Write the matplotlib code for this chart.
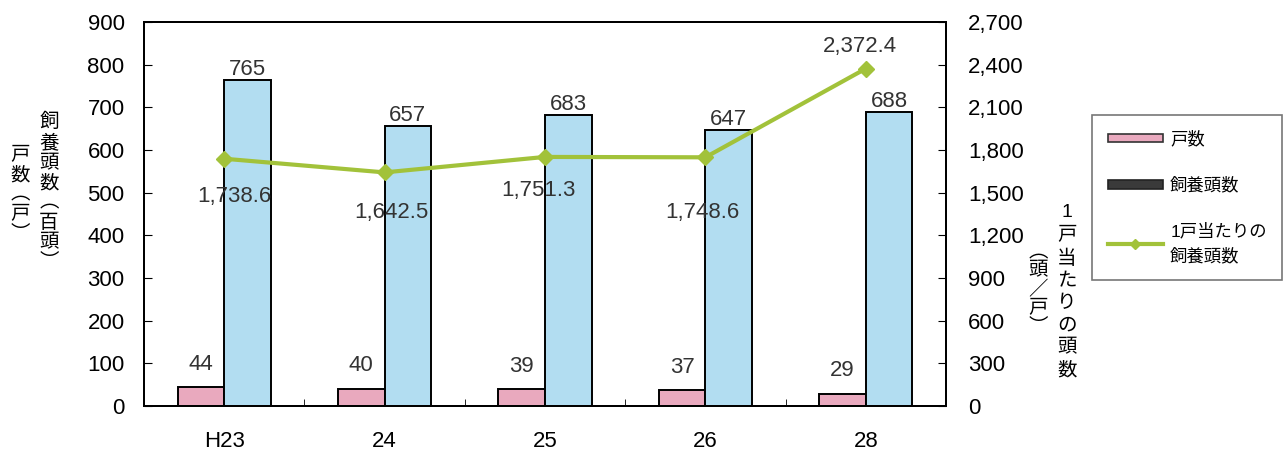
import matplotlib
matplotlib.use('Agg')
import matplotlib.pyplot as plt
from matplotlib.patches import Patch
from matplotlib.lines import Line2D
import numpy as np

plt.rcParams['font.family'] = ['Liberation Sans', 'Noto Sans CJK JP', 'DejaVu Sans']

years = ['H23', '24', '25', '26', '28']
households = [44, 40, 39, 37, 29]
heads = [765, 657, 683, 647, 688]
per_household = [1738.6, 1642.5, 1751.3, 1748.6, 2372.4]

# label offsets (points) for the line values
line_offsets = [(7, -27), (5, -29), (-5, -24), (-2, -40), (-4, 16)]

PINK = '#E9A9BE'
BLUE = '#B2DDF1'
GREEN = '#A2C23A'

fig = plt.figure(figsize=(12.86, 4.5), dpi=100)
ax = fig.add_axes([144 / 1286, 1 - 406 / 450, 802 / 1286, 384 / 450])
ax2 = ax.twinx()

x = np.arange(len(years))
w = 0.29
ax.bar(x - w / 2, households, w, color=PINK, edgecolor='black', linewidth=1.4, zorder=2)
ax.bar(x + w / 2, heads, w, color=BLUE, edgecolor='black', linewidth=1.4, zorder=2)

for xi, v in zip(x, households):
    ax.annotate(str(v), (xi - w / 2, v), xytext=(0, 9), textcoords='offset points',
                ha='center', va='bottom', fontsize=16, color='#333333')
for xi, v in zip(x, heads):
    ax.annotate(str(v), (xi + w / 2, v), xytext=(0, 0), textcoords='offset points',
                ha='center', va='bottom', fontsize=16, color='#333333')

ax.set_xlim(-0.5, len(years) - 0.5)
ax.set_ylim(0, 900)
ax.set_yticks(range(0, 901, 100))
ax.set_xticks(x)
ax.set_xticklabels(years)
ax.set_xticks(np.arange(len(years) - 1) + 0.5, minor=True)
ax.tick_params(axis='y', direction='in', length=6, pad=14, labelsize=16)
ax.tick_params(axis='x', which='major', length=0, pad=18, labelsize=16)
ax.tick_params(axis='x', which='minor', direction='in', length=5)

ax2.plot(x, per_household, color=GREEN, linewidth=3, marker='D', markersize=8, zorder=3)
ax2.set_ylim(0, 2700)
ax2.set_yticks(range(0, 2701, 300))
ax2.set_yticklabels([f'{t:,}' for t in range(0, 2701, 300)])
ax2.tick_params(axis='y', direction='in', length=6, pad=16, labelsize=16)
for xi, v, off in zip(x, per_household, line_offsets):
    ax2.annotate(f'{v:,.1f}', (xi, v), xytext=off, textcoords='offset points',
                 ha='center', va='center', fontsize=16, color='#333333')

for a in (ax, ax2):
    for s in a.spines.values():
        s.set_linewidth(1.4)

ax.set_zorder(ax2.get_zorder() - 1)
ax.patch.set_visible(True)
ax2.patch.set_visible(False)

# vertical (tategaki) axis titles
fig.text(20 / 1286, 1 - 195 / 450, '戸\n数\n︵\n戸\n︶', ha='center', va='center',
         fontsize=14, linespacing=1.2)
fig.text(49 / 1286, 1 - 192 / 450, '飼\n養\n頭\n数\n︵\n百\n頭\n︶', ha='center', va='center',
         fontsize=14, linespacing=1.2)
fig.text(1038 / 1286, 1 - 290 / 450, '︵\n頭\n／\n戸\n︶', ha='center', va='center',
         fontsize=14, linespacing=1.1)
fig.text(1067 / 1286, 1 - 292 / 450, '1\n戸\n当\nた\nり\nの\n頭\n数', ha='center', va='center',
         fontsize=14, linespacing=1.4)

handles = [
    Patch(facecolor=PINK, edgecolor='#333333', linewidth=1.2),
    Patch(facecolor='#3a3a3a', edgecolor='#222222', linewidth=1.2),
    Line2D([0], [0], color=GREEN, linewidth=3, marker='D', markersize=5),
]
labels = ['戸数', '飼養頭数', '1戸当たりの\n飼養頭数']
leg = fig.legend(handles, labels, loc='upper left',
                 bbox_to_anchor=(1092 / 1286, 1 - 115 / 450), borderaxespad=0,
                 fontsize=12.5, handlelength=3.2, handleheight=0.4, handletextpad=0.4,
                 labelspacing=1.7, borderpad=0.9, fancybox=False, edgecolor='#555555')
leg.get_frame().set_linewidth(1.2)
leg.get_texts()[2].set_linespacing(1.6)

fig.savefig('out.png', dpi=100)
